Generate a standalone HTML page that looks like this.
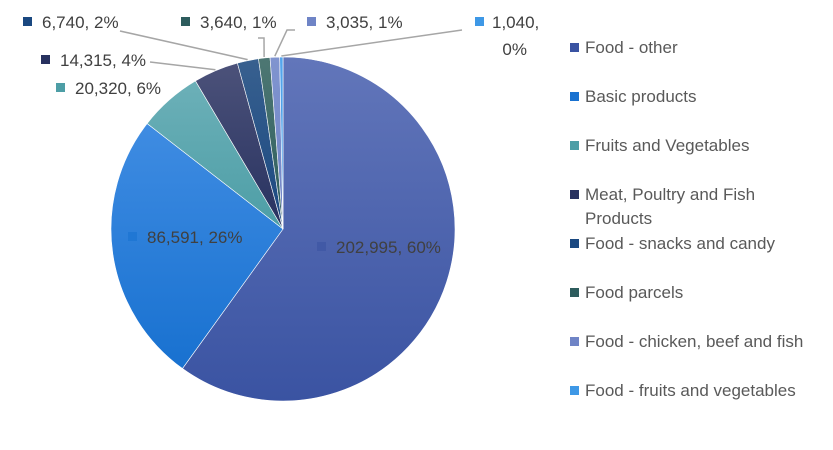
<!DOCTYPE html>
<html><head><meta charset="utf-8"><style>
body{margin:0;background:#fff;}
svg{display:block;font-family:"Liberation Sans",sans-serif;}
</style></head><body>
<svg id="chart" width="833" height="450" viewBox="0 0 833 450" xmlns="http://www.w3.org/2000/svg">
<defs id="defs"></defs>
<g id="slices"></g>
<g id="leaders"></g>
<g id="labels"></g>
<g id="legend"></g>
</svg>
<script>
const categories=["Food - other","Basic products","Fruits and Vegetables","Meat, Poultry and Fish Products","Food - snacks and candy","Food parcels","Food - chicken, beef and fish","Food - fruits and vegetables"];
const values=[202995,86591,20320,14315,6740,3640,3035,1040];
const colorsTop=["#6276ba","#3f8ce2","#6cb0b8","#4c527a","#38608f","#4d7773","#8094cf","#55a6ec"];
const colorsBot=["#3a53a2","#1871d0","#4d9ea6","#27315f","#1a4880","#2d5c5d","#6f84c6","#3e98e6"];
const NS="http://www.w3.org/2000/svg";
const cx=283,cy=229,r=172;
const total=values.reduce((a,b)=>a+b,0);
function fmt(v){return v.toLocaleString("en-US");}
function mk(t,attrs,parent){const e=document.createElementNS(NS,t);for(const k in attrs)e.setAttribute(k,attrs[k]);parent.appendChild(e);return e;}
const defs=document.getElementById("defs");
const gS=document.getElementById("slices"),gL=document.getElementById("leaders"),gT=document.getElementById("labels"),gLg=document.getElementById("legend");
const labelPos=[{x:317,y:247,inside:true},{x:128,y:237,inside:true},{x:56,y:88},{x:41,y:60},{x:23,y:22},{x:181,y:22},{x:307,y:22},{x:475,y:22,wrap:true}];
const leaderStart=[null,null,null,[[150,62]],[[120,31]],[[258,38],[264,38]],[[295,30],[287,30]],[[462,30]]];
let a0=0;
values.forEach((v,i)=>{
  const f=v/total,a1=a0+f*2*Math.PI;
  const gid="g"+i;
  const lg=mk("linearGradient",{id:gid,x1:"0",y1:"0",x2:"0",y2:"1"},defs);
  mk("stop",{offset:"0","stop-color":colorsTop[i]},lg);
  mk("stop",{offset:"1","stop-color":colorsBot[i]},lg);
  const x0=cx+r*Math.sin(a0),y0=cy-r*Math.cos(a0),x1=cx+r*Math.sin(a1),y1=cy-r*Math.cos(a1);
  const large=(a1-a0)>Math.PI?1:0;
  const p=mk("path",{d:`M${cx},${cy}L${x0},${y0}A${r},${r} 0 ${large} 1 ${x1},${y1}Z`,fill:`url(#${gid})`,stroke:"#fff","stroke-width":"0.6"},gS);
  
  
  const am=(a0+a1)/2;
  const lp=labelPos[i];
  const pct=Math.round(f*100)+"%";
  const lab=mk("g",{},gT);
  
  
  mk("rect",{x:lp.x,y:lp.y-5,width:9,height:9,fill:colorsBot[i],opacity:lp.inside?0.6:1},lab);
  if(lp.wrap){
    const t=mk("text",{x:lp.x+17,y:lp.y+6,"font-size":"17",fill:"#404040"},lab);t.textContent=fmt(v)+",";
    const t2=mk("text",{x:lp.x+52,y:lp.y+33,"font-size":"17",fill:"#404040","text-anchor":"end"},lab);t2.textContent=pct;
  }else{
    const t=mk("text",{x:lp.x+19,y:lp.y+6,"font-size":"17",fill:"#404040"},lab);t.textContent=fmt(v)+", "+pct;
  }
  if(!lp.inside && leaderStart[i]){
    const ex=cx+(r+1)*Math.sin(am),ey=cy-(r+1)*Math.cos(am);
    const pts=leaderStart[i].map(s=>s[0]+","+s[1]).join(" ")+" "+ex+","+ey;
    const l=mk("polyline",{points:pts,fill:"none",stroke:"#a6a6a6","stroke-width":"1.5"},gL);
    
    
  }
  a0=a1;
});
const legY=[47,96,145,194,243,292,341,390];
categories.forEach((c,i)=>{
  const g=mk("g",{},gLg);
  
  
  mk("rect",{x:570,y:legY[i]-4,width:9,height:9,fill:colorsBot[i]},g);
  if(c.indexOf("Fish Products")>=0){
    const t=mk("text",{x:585,y:legY[i]+6,"font-size":"17",fill:"#595959"},g);t.textContent="Meat, Poultry and Fish";
    const t2=mk("text",{x:585,y:legY[i]+30,"font-size":"17",fill:"#595959"},g);t2.textContent="Products";
  }else{
    const t=mk("text",{x:585,y:legY[i]+6,"font-size":"17",fill:"#595959"},g);t.textContent=c;
  }
});
</script>
</body></html>
